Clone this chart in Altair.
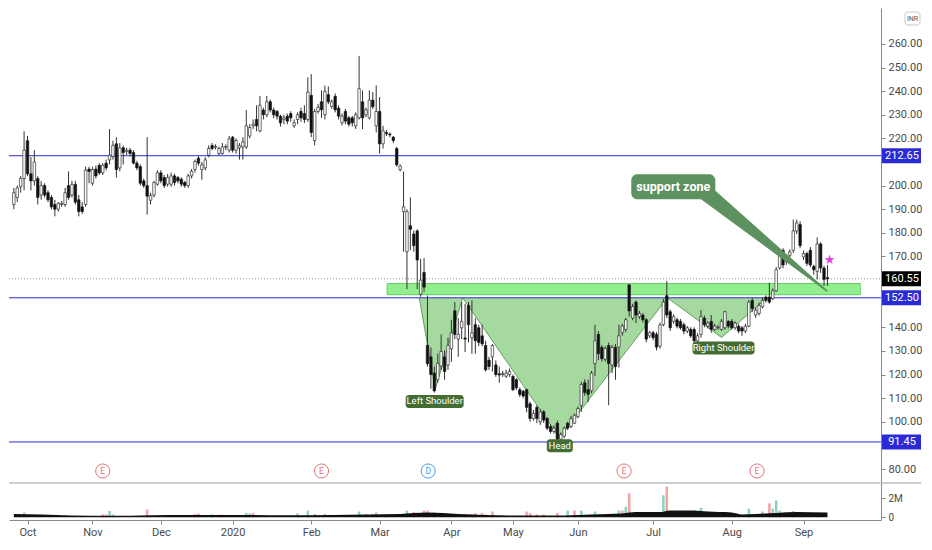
import altair as alt
import pandas as pd

# ---------------- data ----------------
first_index = -4  # candles start 4 trading days before 1 Oct 2019
opens = [
    192, 195, 199.5, 203, 219, 205, 202, 203, 196, 200,
    197, 195, 192, 190, 192, 192, 200, 196, 200.5, 194,
    191, 192, 207, 201, 207, 208.6, 205.4, 209.5, 210.9, 212.3,
    217.7, 207.5, 216, 214.5, 215, 214, 209.5, 208, 202, 200,
    193.8, 196, 200.6, 205.4, 203.4, 200.6, 200.6, 204.1, 203.4, 202.7,
    201.3, 200, 204.1, 206.8, 211.6, 206.8, 207.5, 212.9, 217, 216.2,
    213.6, 213.6, 216.2, 215, 220.5, 215, 216, 216.4, 216.4, 221,
    225.3, 228, 223.2, 232, 230, 235.5, 232, 231.4, 229.4, 228,
    229.4, 230.5, 225.3, 228, 231.4, 230.5, 228, 238.2, 219.1, 231.4,
    235.5, 230, 238.5, 233.5, 237.8, 232.8, 226.6, 231.4, 228.7, 228.7,
    225.3, 228.7, 235.5, 230, 228.7, 236.2, 225.3, 231.4, 217.7, 222.5,
    221.8, 220.5, 215.7, 206.8, 189, 172, 183, 179.5, 180.8, 154,
    163.2, 132.4, 127.5, 120.6, 117.8, 123.6, 127.5, 124, 130.9, 147,
    135, 139.8, 135.5, 149.3, 135.6, 141.1, 139.8, 136.4, 132.3, 126.1,
    127.5, 124.1, 120.3, 120, 119.3, 120, 119.2, 117.8, 113.6, 112.9,
    113.6, 107.6, 101.4, 106.1, 100, 104.2, 101.4, 98, 95.9, 99.4,
    92.6, 93.9, 99.4, 98, 99.4, 102.1, 106.9, 116.5, 113.6, 113.1,
    124.7, 137, 131.5, 126.5, 132.3, 124, 131.5, 131.6, 137.7, 139.1,
    158, 143.9, 150.7, 144.5, 145.2, 143.2, 136.4, 137.7, 137, 132,
    141.1, 153.4, 146.6, 142.5, 143.2, 142.5, 141.1, 138.4, 139.1, 139.1,
    134.3, 137, 143.9, 140.5, 142.5, 139.1, 139.8, 139.1, 139.8, 142.5,
    142.5, 139.8, 140.5, 139.8, 138.4, 140.5, 151.4, 145.2, 145.9, 148.7,
    152.8, 152.8, 152.1, 155.5, 165.1, 172.6, 167.8, 170.5, 172.6, 180.8,
    183.5, 169.8, 171.2, 172.6, 165.8, 163.7, 175.3, 165.1, 161,
]
highs = [
    199, 200, 204, 223, 221, 212, 215, 204, 202, 201,
    198, 196, 194, 193, 193.5, 199, 206, 202, 202, 196,
    193, 208, 208, 208, 208.5, 209.5, 209.5, 211, 223.9, 219,
    220.5, 218, 217, 216, 216, 215, 210.5, 209, 203, 220.5,
    197, 202, 206.5, 206.5, 204.5, 205, 205.5, 205, 204, 203.5,
    202, 205, 207, 211, 212.5, 210, 212, 217, 218, 217.5,
    216.5, 218, 217.5, 221, 221, 220, 218, 220.5, 232, 226,
    228, 234, 238, 233, 238, 236.5, 233, 232, 230, 230,
    230.5, 231.5, 228, 231, 233, 234, 245.8, 247.2, 232.5, 234.5,
    240.3, 242.4, 242, 236.5, 239, 234, 230.5, 232.5, 229.5, 229.5,
    231, 254.9, 240.3, 233, 240.3, 239.6, 242.4, 237.5, 225.3, 223.5,
    222.5, 221, 216.4, 209, 206, 190, 195, 181, 181.6, 169,
    169.3, 153.4, 131.5, 123.4, 128.8, 137, 130.2, 135.6, 143.2, 150.7,
    143.9, 150.7, 150, 150.7, 151.4, 143.9, 141, 141.1, 134.3, 127.5,
    132.9, 126, 123.4, 121.5, 122, 122.5, 120, 118.5, 114.5, 113.5,
    114, 108.5, 105, 107, 105.5, 105, 102, 99, 98.5, 100.5,
    95.5, 98, 100, 102.5, 103.5, 106.5, 117, 118, 117.8, 121.5,
    141.1, 138.4, 132.5, 132, 133.5, 132.5, 132.9, 141.1, 141.5, 144,
    158.2, 150, 151.4, 147, 146, 143.9, 138.5, 138.5, 138, 142,
    152, 159.6, 147.5, 145.5, 144, 143.5, 142, 140.5, 140, 140,
    137.5, 147.3, 145, 142.5, 145.2, 141.5, 141, 143.5, 147, 143,
    143.5, 142.5, 141.5, 140.5, 141.5, 151.5, 152.5, 148.5, 150.5, 152.5,
    153.5, 158.9, 156.5, 165.5, 173, 173.5, 171, 173, 185.6, 185.6,
    184.9, 172.5, 172, 174, 166.5, 178.1, 176, 166, 166.4,
]
lows = [
    190, 193, 197, 198, 204, 198, 200, 192, 194, 195,
    193, 190, 187, 189, 191, 191, 194, 195, 192, 187,
    188, 191, 201, 200, 203, 204.5, 204.5, 206.5, 209, 211,
    203.4, 206, 209, 213, 212.5, 209, 206.5, 200, 199, 187.7,
    192, 195, 200, 201, 199, 199.5, 199.5, 200, 201, 199.5,
    199, 199, 203, 205.5, 208.5, 202.5, 206.5, 212, 215, 215.3,
    212.5, 213, 215, 214, 214, 213.5, 211, 211, 215.5, 220,
    224, 223, 222.5, 228, 229, 231, 228.5, 228, 225, 226,
    226, 227, 224.5, 226, 227, 226.5, 227, 220.5, 217, 230.5,
    228.7, 228, 234.5, 232.5, 231, 228, 225.5, 226, 225, 225,
    224, 228, 223.9, 229, 228, 232.5, 222.5, 213.6, 215.7, 221,
    220.5, 218, 208, 206, 172, 156.2, 172.6, 172, 156.2, 152.9,
    155, 123.4, 114, 112.4, 116.5, 122, 117.8, 122, 125.4, 135,
    127.5, 135, 129.5, 133.6, 128.8, 128.8, 132, 132, 121.3, 122,
    121.3, 119, 116.5, 119, 118.5, 119, 113, 113.5, 110.5, 110,
    104, 100, 100.5, 99.4, 98.7, 99.5, 96.5, 95, 95, 92,
    92, 93, 96.5, 97.3, 99, 101.5, 104.2, 111, 108.3, 112,
    119.3, 126.1, 125.5, 125.5, 107, 120.6, 117.8, 123, 136.5, 138,
    144.5, 143, 141.8, 143.5, 142, 133.6, 135.5, 134.5, 130.2, 131,
    140.5, 143.9, 138.5, 141.5, 139.5, 139, 137, 137.5, 135.5, 132.9,
    133.5, 135.6, 140, 139.5, 137.7, 138.5, 139, 138.5, 139, 139.5,
    139, 139, 137.5, 136.4, 137.5, 140, 146.5, 144, 145, 148,
    150.5, 150, 151.5, 155, 164.5, 165, 166.5, 169.5, 171.5, 179.5,
    173.5, 168.5, 166, 165.5, 162.3, 160.3, 163, 157.5, 157.5,
]
closes = [
    197, 199, 203, 215, 205, 202, 210, 195, 200, 196,
    194, 191, 190, 192.5, 192.5, 197, 195, 200.5, 193, 189,
    189, 206.5, 206, 206.8, 204.1, 205.4, 208.6, 207.5, 212.9, 217,
    206.8, 216, 214, 215, 213.6, 209.5, 207.5, 201, 200, 195.5,
    195.9, 201.3, 205.4, 202, 200, 203.4, 204.1, 201.3, 202, 200.6,
    200, 204.1, 206.1, 210.2, 209.5, 208.8, 210.9, 215.7, 215.7, 216.6,
    215.7, 216.4, 216.6, 219.8, 215, 219.1, 217, 218.5, 225.3, 224.6,
    226, 225.3, 234, 230, 235.5, 232, 230, 229.4, 226.6, 228.7,
    227.3, 228.7, 226.6, 230, 228.7, 228, 239.6, 222.5, 231.4, 233.2,
    232.1, 239.9, 235.5, 235.5, 232.1, 229.4, 229.4, 227.3, 226, 226.6,
    230, 241, 228.7, 232.1, 236.2, 233.4, 231.4, 217.7, 223.2, 222,
    221.5, 219.1, 208.8, 208.3, 191, 189, 181.5, 174.6, 168.5, 160,
    157, 124.6, 120, 113.1, 124.7, 129.8, 121.3, 132.3, 137.7, 137,
    137, 142.5, 135, 141.1, 137.7, 134.3, 133.6, 133, 122, 123.4,
    132.3, 120, 119.8, 120.5, 120.6, 121.3, 113.6, 114.4, 111.6, 110.9,
    106.1, 101.4, 103.5, 101.4, 104.2, 100.7, 97.3, 95.9, 97.3, 92.6,
    94.6, 97.3, 97.3, 101.4, 102.8, 105.6, 115.8, 112.4, 111.6, 120.6,
    134.3, 128.8, 126.7, 131, 124.7, 131.5, 123.4, 136.4, 140.5, 143.2,
    146.9, 148.8, 145.2, 145.9, 143.2, 135, 137.7, 135.6, 131.6, 141,
    150.7, 145.2, 139.8, 144.5, 140.5, 139.8, 138.4, 139.8, 136.4, 134.3,
    136.4, 144.5, 141.1, 141.8, 139.1, 140.5, 140, 142.5, 146.6, 140.5,
    139.8, 141.8, 138.4, 138.4, 140.5, 150.7, 148, 147.3, 149.3, 151.4,
    151.4, 150.7, 155.5, 164.4, 171.2, 166.4, 169.8, 171.9, 180.8, 184.2,
    174.6, 171.2, 167.1, 166.4, 164.4, 175.3, 165.1, 160.3, 160.55,
]
candle_index = list(range(first_index, first_index + len(closes)))

# price axis ticks (those covered by the price tags / currency badge are left out)
price_ticks = [80, 100, 110, 120, 130, 140, 170, 180, 190, 200, 220, 230, 240,
               250, 260]

# horizontal levels and last price
level_price = [212.65, 152.50, 91.45]
last_close = 160.55

# support zone (bar index from/to, price low/high)
zone_index = [105.2, 243.6]
zone_price = [153.8, 158.5]

# inverse head & shoulders pattern (bar index, price) and its neckline
hs_index = [114.6, 119.3, 127.3, 155.6, 187.2, 203.0, 216.3]
hs_price = [152.5, 114.0, 152.5, 93.2, 152.5, 135.7, 152.5]
neckline = 152.5

# pattern tags
tag_text = ["Left Shoulder", "Head", "Right Shoulder"]
tag_index = [119.1, 155.7, 203.6]
tag_price = [108.6, 89.9, 131.2]

# callout "support zone"
callout_text = "support zone"
callout_index = 188.9
callout_price = 199.5
tail_index = [198.2, 233.8]
tail_price = [197.2, 155.4]

# star marker
star_index = 234.6
star_price = 168.5

# events (earnings / dividend)
event_index = [22, 86, 117.2, 174.5, 213.4]
event_label = ["E", "E", "D", "E", "E"]

# month ticks
month_index = [0, 19, 39, 60, 83, 103, 124, 142, 161, 183, 206, 227]
month_label = ["Oct", "Nov", "Dec", "2020", "Feb", "Mar", "Apr", "May", "Jun", "Jul", "Aug", "Sep"]

# volume bars visible above the average (millions) and their colour
vol_index = [-1, 22, 23, 24, 25, 35, 49, 50, 54, 56, 57, 64, 65, 66, 79, 82, 84, 87, 97, 99,
             101, 102, 105, 111, 113, 116, 117, 119, 128, 130, 131, 133, 134, 136, 146, 147,
             149, 151, 155, 158, 160, 162, 166, 173, 174, 175, 176, 186, 187, 197, 211, 215,
             217, 218, 219, 220, 224]
vol_mln = [0.5, 0.3, 0.3, 0.66, 0.3, 0.82, 0.35, 0.4, 0.3, 0.28, 0.28, 0.45, 0.4, 0.45, 0.4,
           0.7, 0.35, 0.35, 0.6, 0.35, 0.35, 0.5, 0.3, 0.7, 0.55, 0.7, 0.7, 0.5, 0.3, 0.3,
           0.45, 0.45, 0.3, 0.6, 0.6, 0.45, 0.3, 0.3, 0.45, 0.7, 0.7, 0.7, 0.6, 0.7, 0.7,
           1.1, 2.5, 2.3, 3.2, 1.0, 0.9, 0.6, 1.45, 0.9, 1.75, 0.7, 0.65]
vol_dir = ["g", "r", "r", "g", "g", "r", "r", "r", "g", "r", "r", "g", "g", "r", "g",
           "g", "g", "g", "g", "g", "r", "g", "r", "g", "r", "r", "r", "r", "r", "g",
           "r", "r", "r", "r", "r", "r", "r", "r", "r", "g", "r", "g", "g", "g", "r",
           "g", "r", "g", "r", "g", "g", "g", "r", "g", "g", "g", "g"]

# volume average (millions)
ma_index = [-4, 4, 13, 24, 36, 47, 61, 75, 89, 100, 109, 117, 126, 134, 146, 157, 165, 174,
            178, 185, 188, 195, 199, 206, 209, 213, 219, 225, 234]
ma_mln = [0.35, 0.3, 0.18, 0.15, 0.22, 0.25, 0.25, 0.22, 0.25, 0.3, 0.35, 0.5, 0.35, 0.25,
          0.18, 0.2, 0.3, 0.4, 0.55, 0.55, 0.72, 0.72, 0.6, 0.5, 0.3, 0.35, 0.45, 0.55, 0.5]

# ---------------- layout / style ----------------
W, H1, H2 = 872, 474, 37
AX = 40
FONT = "Roboto"
AXC = "#8a8a8a"
LBL = "#4a4a4a"
BLUE = "#2b2bd6"

xs = alt.Scale(domain=[-3.95, 248.2], nice=False, zero=False)
ys = alt.Scale(domain=[74.5, 275.2], nice=False, zero=False)
vs = alt.Scale(domain=[-280000, 3570000], nice=False, zero=False)
X = alt.X("i:Q", scale=xs, axis=None)


def Y(field):
    return alt.Y(field, scale=ys, title=None)


price_axis = alt.Axis(orient="right", values=price_ticks, tickCount=50, format=".2f",
                      grid=False, domainColor=AXC, tickColor=AXC, tickSize=4,
                      labelColor=LBL, labelFontSize=11, labelFont=FONT, labelPadding=3,
                      labelOverlap=False, minExtent=AX, maxExtent=AX, title=None)

cdf = pd.DataFrame({"i": candle_index, "o": opens, "h": highs, "l": lows, "c": closes})
cdf["dir"] = ["up" if c >= o else "down" for o, c in zip(opens, closes)]

hsdf = pd.DataFrame({"i": hs_index, "p": hs_price})

hs_fill = alt.Chart(hsdf).mark_area(color="#a1d79b", opacity=0.95, clip=True).encode(
    x=X, y=alt.Y("p:Q", scale=ys, axis=price_axis, title=None), y2=alt.datum(neckline))
hs_line = alt.Chart(hsdf).mark_line(color="#5f9f59", strokeWidth=1, clip=True).encode(
    x=X, y=Y("p:Q"))

zdf = pd.DataFrame({"x0": [zone_index[0]], "x1": [zone_index[1]],
                    "p0": [zone_price[0]], "p1": [zone_price[1]]})
zone = alt.Chart(zdf).mark_rect(fill="#93ee8f", stroke="#5fcf5c", strokeWidth=1, clip=True).encode(
    x=alt.X("x0:Q", scale=xs, axis=None), x2="x1:Q", y=Y("p0:Q"), y2="p1:Q")

levels = alt.Chart(pd.DataFrame({"p": level_price})).mark_rule(color=BLUE, strokeWidth=1).encode(
    y=Y("p:Q"), x=alt.value(0), x2=alt.value(W))
close_line = alt.Chart(pd.DataFrame({"p": [last_close]})).mark_rule(
    color="#9a9a9a", strokeDash=[1, 2], strokeWidth=1).encode(
    y=Y("p:Q"), x=alt.value(0), x2=alt.value(W))

wicks = alt.Chart(cdf).mark_rule(color="#333333", strokeWidth=1, clip=True).encode(
    x=X, y=Y("l:Q"), y2="h:Q")
bodies = alt.Chart(cdf).mark_bar(size=2.5, stroke="#111111", strokeWidth=0.6, clip=True).encode(
    x=X, y=Y("o:Q"), y2="c:Q",
    fill=alt.Fill("dir:N", scale=alt.Scale(domain=["up", "down"], range=["#ffffff", "#111111"]),
                  legend=None))


def tag(text, i, p, w, h, fill, fsize, weight, radius):
    d = pd.DataFrame({"t": [text], "i": [i], "p": [p]})
    box = alt.Chart(d).mark_rect(fill=fill, cornerRadius=radius, xOffset=-w / 2, x2Offset=w / 2,
                                 yOffset=-h / 2, y2Offset=h / 2).encode(
        x=X, x2="i:Q", y=Y("p:Q"), y2="p:Q")
    txt = alt.Chart(d).mark_text(color="white", font=FONT, fontSize=fsize, fontWeight=weight,
                                 align="center", baseline="middle").encode(
        x=X, y=Y("p:Q"), text="t:N")
    return [box, txt]


tag_w = [58, 26, 62]
tag_layers = []
for t, ti, tp, tw in zip(tag_text, tag_index, tag_price, tag_w):
    tag_layers += tag(t, ti, tp, tw, 13, "#436d33", 9.5, "normal", 3)

tdf = pd.DataFrame({"i": tail_index, "p": tail_price, "w": [16, 1.5]})
tail = alt.Chart(tdf).mark_trail(color="#5e9160").encode(
    x=X, y=Y("p:Q"), size=alt.Size("w:Q", scale=None, legend=None))
callout = tag(callout_text, callout_index, callout_price, 84, 25, "#5e9160", 12.5, "bold", 6)

star = alt.Chart(pd.DataFrame({"i": [star_index], "p": [star_price], "t": ["★"]})).mark_text(
    color="#e33ce6", fontSize=13, font="DejaVu Sans", baseline="middle").encode(
    x=X, y=Y("p:Q"), text="t:N")

edf = pd.DataFrame({"i": event_index, "t": event_label})
ev_scale = alt.Scale(domain=["E", "D"], range=["#e8707a", "#3d9df0"])
ev_circ = alt.Chart(edf).mark_point(shape="circle", size=200, filled=True, fill="white",
                                    strokeWidth=1, opacity=1).encode(
    x=X, y=alt.value(H1 - 11), stroke=alt.Stroke("t:N", scale=ev_scale, legend=None))
ev_txt = alt.Chart(edf).mark_text(fontSize=8.5, font=FONT, baseline="middle").encode(
    x=X, y=alt.value(H1 - 11), text="t:N", color=alt.Color("t:N", scale=ev_scale, legend=None))

lvl_tags = pd.DataFrame({"p": level_price, "t": [f"{v:.2f}" for v in level_price]})
last_tag = pd.DataFrame({"p": [last_close], "t": [f"{last_close:.2f}"]})


def axis_tag(d, fill):
    box = alt.Chart(d).mark_rect(fill=fill, yOffset=-7.5, y2Offset=7.5).encode(
        x=alt.value(W + 1), x2=alt.value(W + AX), y=Y("p:Q"), y2="p:Q")
    txt = alt.Chart(d).mark_text(color="white", fontSize=11, font=FONT, align="center",
                                 baseline="middle").encode(
        x=alt.value(W + 21), y=Y("p:Q"), text="t:N")
    return [box, txt]


inr_d = pd.DataFrame({"t": ["INR"]})
inr_box = alt.Chart(inr_d).mark_rect(fill="white", stroke="#c8c8c8", cornerRadius=3).encode(
    x=alt.value(W + 24), x2=alt.value(W + 39), y=alt.value(4), y2=alt.value(17))
inr_txt = alt.Chart(inr_d).mark_text(fontSize=7, font=FONT, color="#555555", baseline="middle").encode(
    x=alt.value(W + 31.5), y=alt.value(10.5), text="t:N")

main = alt.layer(
    hs_fill, hs_line, zone, levels, close_line, wicks, bodies,
    *tag_layers, tail, *callout, star, ev_circ, ev_txt,
    *axis_tag(lvl_tags, BLUE), *axis_tag(last_tag, "#000000"), inr_box, inr_txt,
).properties(width=W, height=H1)

# ---------------- volume pane ----------------
label_expr = "[" + ",".join(f"'{m}'" for m in month_label) + "][indexof([" + \
    ",".join(str(v) for v in month_index) + "], datum.value)]"
x_axis = alt.Axis(values=month_index, tickCount=50, labelExpr=label_expr, grid=False,
                  domainColor=AXC, tickColor=AXC, tickSize=4, labelColor=LBL,
                  labelFontSize=11, labelFont=FONT, labelPadding=2, labelFlush=False,
                  labelOverlap=False, title=None, minExtent=18, maxExtent=18)
vol_axis = alt.Axis(orient="right", values=[0, 2000000], tickCount=10,
                    labelExpr="datum.value == 0 ? '0' : '2M'", grid=False, domainColor=AXC,
                    tickColor=AXC, tickSize=4, labelColor=LBL, labelFontSize=10, labelFont=FONT,
                    labelPadding=3, labelOverlap=False, minExtent=AX, maxExtent=AX, title=None)

vdf = pd.DataFrame({"i": vol_index, "v": [m * 1e6 for m in vol_mln], "d": vol_dir})
madf = pd.DataFrame({"i": ma_index, "v": [m * 1e6 for m in ma_mln]})

vbars = alt.Chart(vdf).mark_bar(size=2.5, clip=True).encode(
    x=alt.X("i:Q", scale=xs, axis=x_axis),
    y=alt.Y("v:Q", scale=vs, axis=vol_axis, title=None),
    y2=alt.datum(0),
    color=alt.Color("d:N", scale=alt.Scale(domain=["g", "r"], range=["#8fd1bd", "#f3a3a3"]),
                    legend=None))
ma_area = alt.Chart(madf).mark_area(color="#111111", interpolate="monotone", clip=True).encode(
    x=alt.X("i:Q", scale=xs), y=alt.Y("v:Q", scale=vs, title=None), y2=alt.datum(0))
sep = alt.Chart(pd.DataFrame({"a": [0]})).mark_rule(color="#9e9e9e", strokeWidth=1).encode(
    y=alt.value(0), x=alt.value(0), x2=alt.value(W + AX))

vol = alt.layer(vbars, ma_area, sep).properties(width=W, height=H2)

chart = alt.vconcat(main, vol, spacing=0).resolve_scale(
    color="independent", fill="independent", stroke="independent", size="independent"
).properties(padding=0, background="white").configure_view(strokeWidth=0)

chart.save("out.html", embed_options={"renderer": "svg", "actions": False})
